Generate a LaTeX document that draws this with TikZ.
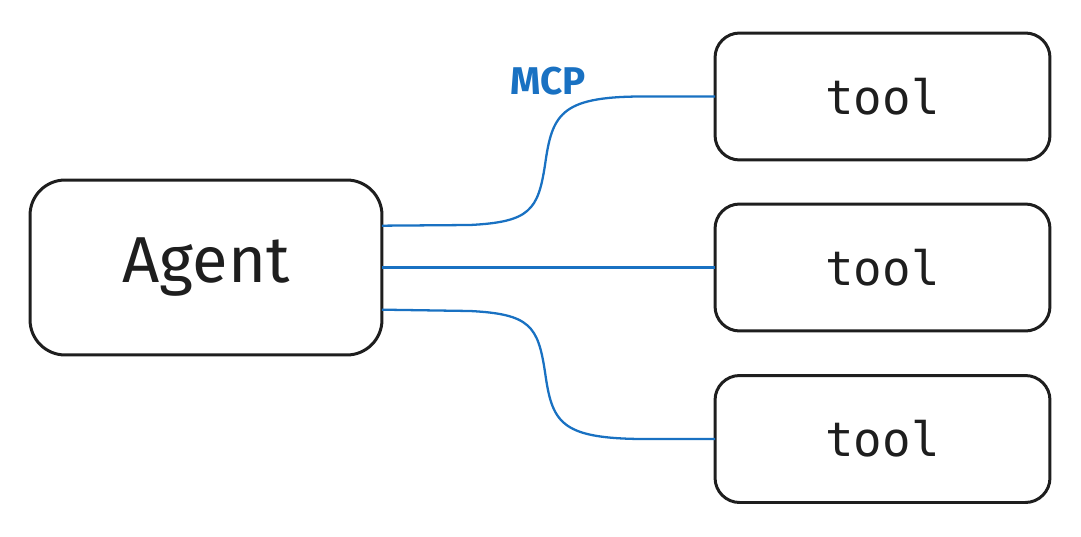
\documentclass[tikz,border=0pt]{standalone}
\usepackage{fontspec}
\setmainfont{Fira Sans}
\newfontfamily\toolfont{DejaVu Sans Mono}
\usepackage{tikz}
\definecolor{inkblack}{HTML}{1E1E1E}
\definecolor{mcpblue}{HTML}{1971C2}
\tikzset{agentbox/.style={draw=inkblack,line width=1.7pt,rounded corners=20pt,
        minimum width=7.04cm,minimum height=3.5cm,inner sep=0pt,outer sep=0pt,
        font=\fontsize{37}{42}\selectfont,text=inkblack},
        toolbox/.style={draw=inkblack,line width=1.7pt,rounded corners=14pt,
        minimum width=6.7cm,minimum height=2.54cm,inner sep=0pt,outer sep=0pt,
        font=\toolfont\fontsize{27}{31}\selectfont,text=inkblack},
        mcp/.style={draw=mcpblue,line width=1.3pt},
        mcplabel/.style={text=mcpblue,font=\bfseries\fontsize{22}{26}\selectfont}}

\begin{document}
\begin{tikzpicture}[x=0.02cm,y=-0.02cm]
  \useasboundingbox (0,0) rectangle (1081,537);
  \node[agentbox] (agent) at (206,267.5) {Agent};
  \node[toolbox] (tool1) at (882.5,96.5) {tool};
  \node[toolbox] (tool2) at (882.5,267.5) {tool};
  \node[toolbox] (tool3) at (882.5,439) {tool};
  \node[mcplabel] (mcpname) at (548,81) {MCP};
  % MCP links
  \draw[mcp] ([yshift=23.8pt]agent.east) -- (470,225)
     .. controls (530,222) and (538,210) .. (545,165)
     .. controls (552,115) and (560,97) .. (640,96.5) -- (tool1.west);
  \draw[mcp] (agent.east) -- (tool2.west);
  \draw[mcp] ([yshift=-24pt]agent.east) -- (470,311)
     .. controls (530,314) and (538,326) .. (545,372)
     .. controls (552,422) and (560,438) .. (640,439) -- (tool3.west);
\end{tikzpicture}
\end{document}
